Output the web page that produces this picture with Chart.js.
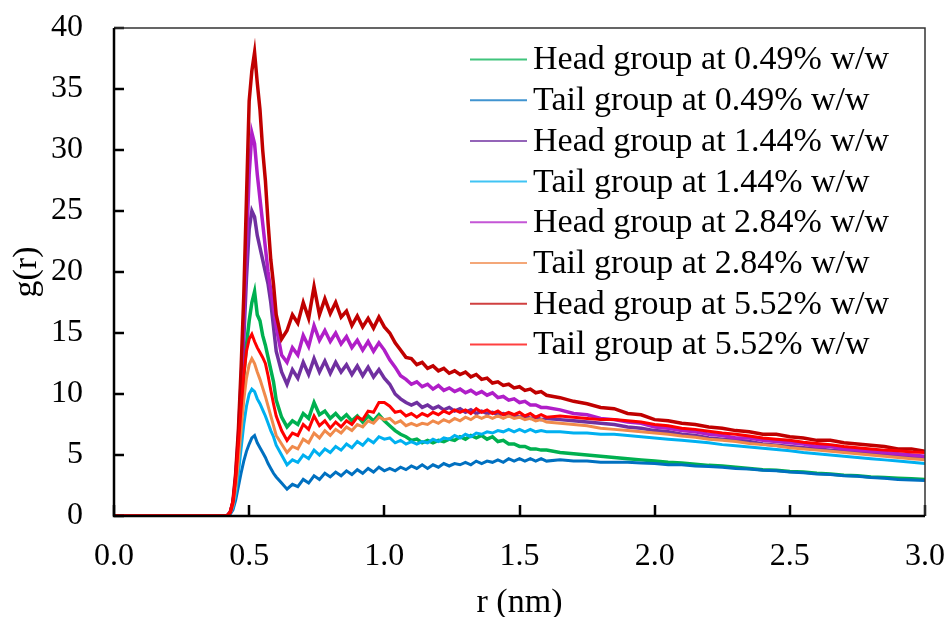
<!DOCTYPE html>
<html>
<head>
<meta charset="utf-8">
<script src="https://cdn.jsdelivr.net/npm/chart.js@4.4.0/dist/chart.umd.min.js"></script>
<style>
  html, body { margin: 0; padding: 0; background: #fff; }
  #wrap { width: 950px; height: 617px; }
</style>
</head>
<body>
<div id="wrap"><canvas id="chart" width="950" height="617"></canvas></div>
<script>
// r (nm) sample positions
const rValues = [
  0.00, 0.40, 0.41, 0.42, 0.43, 0.44, 0.45, 0.46, 0.47, 0.48, 0.49, 0.50, 0.51, 0.52, 0.53, 0.54, 0.55, 0.56, 0.57, 0.58, 0.59, 0.60,
  0.62, 0.64, 0.66, 0.68, 0.70, 0.72, 0.74, 0.76, 0.78, 0.80, 0.82, 0.84, 0.86, 0.88, 0.90, 0.92, 0.94, 0.96, 0.98, 1.00,
  1.02, 1.04, 1.06, 1.08, 1.10, 1.12, 1.14, 1.16, 1.18, 1.20, 1.22, 1.24, 1.26, 1.28, 1.30, 1.32, 1.34, 1.36, 1.38, 1.40,
  1.42, 1.44, 1.46, 1.48, 1.50, 1.52, 1.54, 1.56, 1.58, 1.60,
  1.65, 1.70, 1.75, 1.80, 1.85, 1.90, 1.95, 2.00, 2.05, 2.10, 2.15, 2.20, 2.25, 2.30, 2.35, 2.40, 2.45, 2.50, 2.55, 2.60,
  2.65, 2.70, 2.75, 2.80, 2.85, 2.90, 2.95, 3.00
];

// g(r) series
const head049 = [
  0, 0, 0, 0.05, 0.3, 1.0, 2.8, 5.5, 8.5, 11.5, 14, 16, 17.5, 18.4, 16.5, 16, 14.8, 14, 13, 12, 11, 9.5,
  8.1, 7.3, 7.8, 7.5, 8.4, 8.0, 9.3, 8.3, 8.6, 8.0, 8.4, 7.9, 8.3, 7.8, 8.2, 7.7, 8.2, 7.8, 8.3, 7.8,
  7.4, 7.0, 6.7, 6.5, 6.2, 6.3, 6.0, 6.2, 6.0, 6.2, 6.1, 6.3, 6.2, 6.5, 6.3, 6.6, 6.4, 6.6, 6.3, 6.5,
  6.1, 6.2, 5.9, 5.9, 5.7, 5.7, 5.5, 5.5, 5.4, 5.4,
  5.2, 5.1, 5.0, 4.9, 4.8, 4.7, 4.6, 4.5, 4.4, 4.35, 4.25, 4.15, 4.1, 4.0, 3.9, 3.8, 3.75, 3.65, 3.6, 3.5,
  3.45, 3.35, 3.3, 3.2, 3.15, 3.1, 3.05, 3.0
];
const tail049 = [
  0, 0, 0, 0.03, 0.15, 0.5, 1.3, 2.4, 3.5, 4.5, 5.3, 5.9, 6.4, 6.6, 6.0, 5.6, 5.2, 4.8, 4.3, 3.9, 3.5, 3.2,
  2.7, 2.2, 2.6, 2.4, 3.0, 2.7, 3.3, 3.0, 3.5, 3.2, 3.6, 3.3, 3.7, 3.4, 3.8, 3.5, 3.9, 3.6, 4.0, 3.7,
  3.9, 3.7, 4.0, 3.8, 4.1, 3.9, 4.2, 3.9, 4.2, 4.0, 4.3, 4.1, 4.3, 4.2, 4.4, 4.2, 4.5, 4.3, 4.5, 4.4,
  4.6, 4.4, 4.7, 4.5, 4.7, 4.5, 4.7, 4.5, 4.7, 4.5,
  4.6, 4.5, 4.5, 4.4, 4.4, 4.4, 4.35, 4.3, 4.2, 4.2, 4.1, 4.05, 4.0, 3.9, 3.85, 3.75, 3.7, 3.6, 3.55, 3.45,
  3.4, 3.3, 3.25, 3.15, 3.1, 3.0, 2.95, 2.9
];
const head144 = [
  0, 0, 0, 0.05, 0.3, 1.0, 3.0, 6, 10, 14.5, 19.5, 23.5, 25, 24.5, 23, 22, 21, 20, 19, 17.5, 15.5, 13.5,
  11.8, 10.8, 12.0, 11.3, 12.6, 11.6, 12.9, 11.8, 12.7, 11.7, 12.6, 11.8, 12.4, 11.6, 12.3, 11.5, 12.2, 11.4, 12.0, 11.3,
  10.8, 10.0, 9.6, 9.3, 9.1, 9.3, 8.9, 9.1, 8.8, 9.0, 8.7, 8.9, 8.6, 8.8, 8.5, 8.7, 8.4, 8.6, 8.4, 8.5,
  8.3, 8.4, 8.2, 8.3, 8.1, 8.2, 8.0, 8.1, 7.9, 8.0,
  7.9, 7.8, 7.7, 7.6, 7.5, 7.3, 7.2, 7.0, 6.9, 6.7, 6.6, 6.4, 6.3, 6.2, 6.1, 5.9, 5.8, 5.7, 5.6, 5.5,
  5.4, 5.3, 5.2, 5.1, 5.0, 4.95, 4.85, 4.8
];
const tail144 = [
  0, 0, 0, 0.04, 0.2, 0.7, 1.8, 3.5, 5.5, 7.5, 9.0, 10.0, 10.4, 10.2, 9.6, 9.2, 8.7, 8.2, 7.6, 7.0, 6.5, 5.8,
  5.0, 4.2, 4.6, 4.4, 5.0, 4.7, 5.4, 5.0, 5.5, 5.2, 5.7, 5.4, 5.9, 5.6, 6.1, 5.8, 6.3, 6.0, 6.5, 6.3,
  6.4, 6.0, 6.2, 5.9, 6.1, 5.9, 6.1, 6.0, 6.3, 6.1, 6.4, 6.3, 6.6, 6.4, 6.7, 6.5, 6.8, 6.7, 6.9, 6.8,
  7.0, 6.9, 7.1, 6.9, 7.1, 6.9, 7.1, 6.9, 7.0, 6.9,
  6.9, 6.8, 6.8, 6.7, 6.7, 6.6, 6.5, 6.4, 6.3, 6.2, 6.1, 6.0, 5.85, 5.75, 5.65, 5.55, 5.45, 5.35, 5.2, 5.1,
  5.0, 4.9, 4.8, 4.7, 4.6, 4.5, 4.4, 4.3
];
const head284 = [
  0, 0, 0, 0.05, 0.3, 1.1, 3.2, 6.5, 11, 16, 22, 28, 31.4, 30.5, 28, 26, 24, 22, 20, 18.5, 17, 15.5,
  13.2, 12.6, 13.8, 13.2, 14.8, 13.9, 15.6, 14.4, 15.2, 14.3, 15.0, 14.1, 14.7, 13.8, 14.4, 13.6, 14.3, 13.5, 14.2, 13.6,
  12.8, 12.2, 11.5, 11.2, 10.8, 11.0, 10.6, 10.8, 10.4, 10.7, 10.3, 10.5, 10.2, 10.4, 10.1, 10.3, 10.0, 10.2, 9.9, 10.1,
  9.7, 9.8, 9.5, 9.6, 9.3, 9.4, 9.1, 9.1, 8.9, 8.9,
  8.7, 8.4, 8.3, 8.0, 7.9, 7.7, 7.6, 7.3, 7.2, 7.0, 6.9, 6.7, 6.6, 6.4, 6.4, 6.2, 6.1, 6.0, 5.9, 5.7,
  5.7, 5.5, 5.4, 5.3, 5.2, 5.1, 5.0, 4.9
];
const tail284 = [
  0, 0, 0, 0.05, 0.25, 0.9, 2.3, 4.5, 7, 9.5, 11.3, 12.4, 12.9, 12.5, 11.8, 11.2, 10.5, 9.8, 9.0, 8.2, 7.4, 6.6,
  5.9, 5.2, 5.7, 5.5, 6.3, 6.0, 6.8, 6.4, 7.0, 6.6, 7.1, 6.8, 7.3, 7.0, 7.5, 7.3, 7.8, 7.6, 8.1, 7.9,
  8.0, 7.6, 7.8, 7.4, 7.6, 7.4, 7.6, 7.5, 7.8, 7.6, 7.9, 7.7, 8.0, 7.8, 8.1, 7.9, 8.2, 8.0, 8.2, 8.0,
  8.2, 8.0, 8.2, 8.0, 8.1, 7.9, 8.0, 7.8, 7.9, 7.7,
  7.6, 7.5, 7.4, 7.2, 7.1, 7.0, 6.9, 6.8, 6.7, 6.55, 6.45, 6.3, 6.2, 6.1, 5.95, 5.85, 5.75, 5.6, 5.5, 5.4,
  5.3, 5.2, 5.1, 5.0, 4.9, 4.8, 4.7, 4.6
];
const head552 = [
  0, 0, 0, 0.05, 0.3, 1.2, 3.5, 7, 12, 18, 26, 34, 36.5, 38, 35.5, 33.3, 30, 27.5, 24, 21, 19, 16.5,
  14.5, 15.2, 16.5, 15.8, 17.5, 16.2, 18.8, 16.5, 17.8, 16.6, 17.5, 16.3, 16.8, 15.6, 16.4, 15.5, 16.2, 15.4, 16.3, 15.5,
  15.0, 14.2, 13.6, 13.0, 12.9, 12.4, 12.6, 12.1, 12.3, 11.9, 12.1, 11.7, 11.9, 11.6, 11.8, 11.4, 11.6, 11.2, 11.3, 10.9,
  11.0, 10.7, 10.8, 10.5, 10.6, 10.3, 10.4, 10.1, 10.2, 9.9,
  9.7, 9.4, 9.2, 8.9, 8.8, 8.4, 8.3, 7.9, 7.8, 7.6, 7.5, 7.3, 7.2, 7.0, 6.9, 6.7, 6.7, 6.5, 6.4, 6.2,
  6.2, 6.0, 5.9, 5.8, 5.7, 5.5, 5.5, 5.3
];
const tail552 = [
  0, 0, 0, 0.06, 0.35, 1.2, 3.0, 5.8, 8.8, 11.5, 13.5, 14.5, 14.9, 14.3, 13.8, 13.4, 13.0, 12.5, 11.5, 10.3, 9.2, 8.2,
  7.0, 6.2, 6.8, 6.6, 7.5, 7.1, 8.2, 7.4, 7.8, 7.2, 7.7, 7.3, 7.8, 7.5, 8.1, 7.9, 8.6, 8.5, 9.3, 9.3,
  9.0, 8.5, 8.6, 8.2, 8.4, 8.1, 8.4, 8.2, 8.5, 8.3, 8.6, 8.4, 8.7, 8.5, 8.7, 8.4, 8.8, 8.5, 8.7, 8.4,
  8.6, 8.3, 8.5, 8.3, 8.5, 8.2, 8.4, 8.1, 8.3, 8.1,
  8.2, 8.1, 8.0, 7.9, 7.9, 7.8, 7.7, 7.5, 7.4, 7.2, 7.1, 6.95, 6.8, 6.7, 6.55, 6.4, 6.3, 6.2, 6.05, 5.95,
  5.85, 5.7, 5.6, 5.5, 5.4, 5.35, 5.25, 5.2
];

const seriesLabels = [
  'Head group at 0.49% w/w', 'Tail group at 0.49% w/w',
  'Head group at 1.44% w/w', 'Tail group at 1.44% w/w',
  'Head group at 2.84% w/w', 'Tail group at 2.84% w/w',
  'Head group at 5.52% w/w', 'Tail group at 5.52% w/w'
];
const seriesValues = [head049, tail049, head144, tail144, head284, tail284, head552, tail552];
const seriesColors = ['#00b050', '#0070c0', '#7030a0', '#00b0f0', '#b01ec8', '#f08a4b', '#c00000', '#ff0000'];

const FONT = "'Liberation Serif', 'Times New Roman', serif";

// axis frame + inward tick marks
const frameTicks = {
  id: 'frameTicks',
  afterDatasetsDraw(chart) {
    const { ctx, chartArea: a, scales: { x, y } } = chart;
    ctx.save();
    ctx.strokeStyle = '#000';
    ctx.lineWidth = 2.5;
    y.ticks.forEach(t => {
      const py = Math.round(y.getPixelForValue(t.value));
      ctx.beginPath(); ctx.moveTo(a.left, py); ctx.lineTo(a.left + 10, py); ctx.stroke();
    });
    x.ticks.forEach(t => {
      const px = Math.round(x.getPixelForValue(t.value));
      ctx.beginPath(); ctx.moveTo(px, a.bottom); ctx.lineTo(px, a.bottom - 11); ctx.stroke();
    });
    // top/right thin border
    ctx.strokeStyle = '#333';
    ctx.lineWidth = 1.5;
    ctx.beginPath();
    ctx.moveTo(a.left, a.top); ctx.lineTo(a.right, a.top); ctx.lineTo(a.right, a.bottom);
    ctx.stroke();
    // left/bottom axes
    ctx.strokeStyle = '#000';
    ctx.lineWidth = 2.5;
    ctx.beginPath();
    ctx.moveTo(a.left, a.top); ctx.lineTo(a.left, a.bottom); ctx.lineTo(a.right, a.bottom);
    ctx.stroke();
    ctx.restore();
  }
};

// legend inside the plot, top right
const insideLegend = {
  id: 'insideLegend',
  afterDraw(chart) {
    const { ctx, chartArea: a } = chart;
    ctx.save();
    ctx.font = '34px ' + FONT;
    ctx.textBaseline = 'middle';
    ctx.fillStyle = '#000';
    seriesLabels.forEach((label, i) => {
      const yy = a.top + 31.5 + i * 40.7;
      ctx.strokeStyle = seriesColors[i];
      ctx.globalAlpha = 0.75;
      ctx.lineWidth = 2;
      ctx.beginPath(); ctx.moveTo(a.right - 455, yy); ctx.lineTo(a.right - 398, yy); ctx.stroke();
      ctx.globalAlpha = 1;
      ctx.fillText(label, a.right - 392, yy + 1);
    });
    ctx.restore();
  }
};

const datasets = seriesValues.map((vals, i) => ({
  label: seriesLabels[i],
  data: rValues.map((r, k) => ({ x: r, y: vals[k] })),
  borderColor: seriesColors[i],
  borderWidth: (i % 2 === 0) ? 3.5 : 3,
  pointRadius: 0,
  tension: 0,
  fill: false,
  order: seriesValues.length - i   // later series drawn on top
}));

new Chart(document.getElementById('chart'), {
  type: 'line',
  data: { datasets },
  options: {
    responsive: false,
    animation: false,
    layout: { padding: { top: 28, right: 25, left: 0, bottom: 0 } },
    plugins: {
      legend: { display: false },
      tooltip: { enabled: false }
    },
    scales: {
      x: {
        type: 'linear',
        min: 0, max: 3,
        grid: { display: false, drawTicks: false },
        border: { display: false },
        ticks: {
          stepSize: 0.5,
          color: '#000',
          padding: 21,
          font: { family: FONT, size: 32 },
          callback: v => v.toFixed(1)
        },
        title: {
          display: true, text: 'r (nm)', color: '#000',
          font: { family: FONT, size: 34, lineHeight: 0.8 },
          padding: { top: 0, bottom: 0 }
        },
        afterFit: s => {
          s.height = 101;
          s.paddingLeft = 0; s.paddingRight = 0;
        }
      },
      y: {
        min: 0, max: 40,
        grid: { display: false, drawTicks: false },
        border: { display: false },
        ticks: {
          stepSize: 5,
          color: '#000',
          padding: 31,
          font: { family: FONT, size: 32 }
        },
        title: {
          display: true, text: 'g(r)', color: '#000',
          font: { family: FONT, size: 34 },
          padding: { top: 7, bottom: 0 }
        },
        afterFit: s => {
          s.width = 114;
          s.paddingTop = 0; s.paddingBottom = 0;
        }
      }
    }
  },
  plugins: [frameTicks, insideLegend]
});
</script>
</body>
</html>
